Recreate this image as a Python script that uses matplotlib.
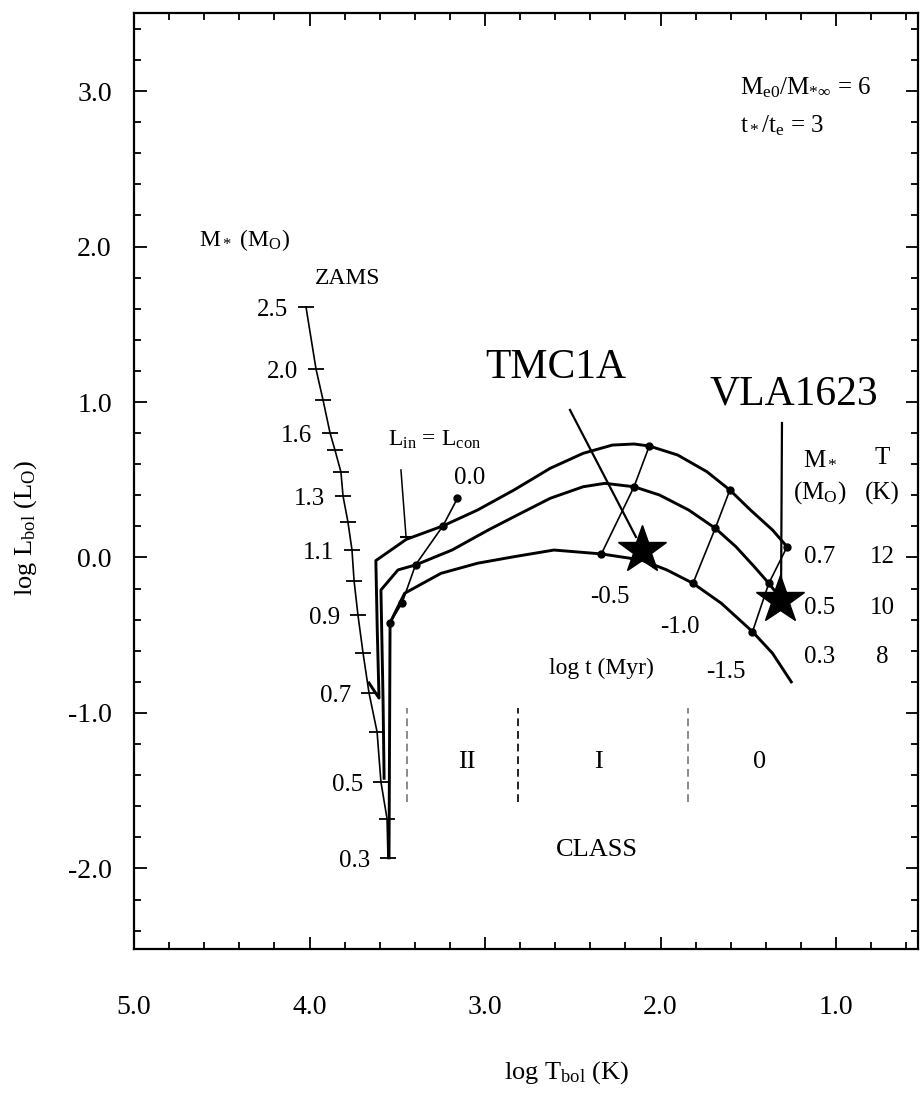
import matplotlib
matplotlib.use('Agg')
import matplotlib.pyplot as plt
from matplotlib.ticker import MultipleLocator, FormatStrFormatter

plt.rcParams['font.family'] = ['Liberation Serif', 'DejaVu Serif']
plt.rcParams['mathtext.fontset'] = 'custom'
plt.rcParams['mathtext.rm'] = 'Liberation Serif'
plt.rcParams['mathtext.it'] = 'Liberation Serif:italic'
plt.rcParams['mathtext.bf'] = 'Liberation Serif:bold'
plt.rcParams['axes.unicode_minus'] = False

# ---------------- data (log T_bol, log L_bol) ----------------
zams_mass = [2.5, 2.0, 1.8, 1.6, 1.5, 1.4, 1.3, 1.2, 1.1, 1.0, 0.9, 0.8, 0.7, 0.6, 0.5, 0.4, 0.3]
zams_logT = [4.020, 3.963, 3.923, 3.883, 3.855, 3.821, 3.809, 3.781, 3.758, 3.746,
             3.724, 3.695, 3.661, 3.615, 3.593, 3.558, 3.553]
zams_logL = [1.611, 1.212, 1.013, 0.801, 0.691, 0.550, 0.395, 0.228, 0.048, -0.151,
             -0.370, -0.614, -0.871, -1.122, -1.444, -1.682, -1.932]
zams_labeled = ["2.5", "2.0", "1.6", "1.3", "1.1", "0.9", "0.7", "0.5", "0.3"]

track07_logT = [3.661, 3.604, 3.614, 3.622, 3.448, 3.240, 3.043, 2.835, 2.628, 2.441,
                2.275, 2.151, 2.064, 1.902, 1.736, 1.605, 1.487, 1.362, 1.279]
track07_logL = [-0.807, -0.904, -0.466, -0.020, 0.117, 0.203, 0.305, 0.434, 0.574, 0.670,
                0.723, 0.730, 0.717, 0.659, 0.552, 0.434, 0.305, 0.177, 0.069]

track05_logT = [3.575, 3.581, 3.593, 3.496, 3.396, 3.188, 2.981, 2.835, 2.628, 2.441,
                2.317, 2.151, 2.006, 1.839, 1.688, 1.570, 1.466, 1.383, 1.331]
track05_logL = [-1.420, -0.916, -0.209, -0.080, -0.048, 0.048, 0.177, 0.262, 0.381, 0.455,
                0.477, 0.455, 0.402, 0.305, 0.188, 0.069, -0.059, -0.166, -0.241]

track03_logT = [3.547, 3.541, 3.458, 3.251, 3.043, 2.835, 2.607, 2.337, 2.109, 1.964,
                1.815, 1.653, 1.476, 1.362, 1.255]
track03_logL = [-1.932, -0.419, -0.230, -0.102, -0.037, 0.005, 0.048, 0.023, -0.016, -0.080,
                -0.166, -0.295, -0.477, -0.616, -0.800]

iso_00_logT = [3.157, 3.240, 3.396, 3.473, 3.541]
iso_00_logL = [0.381, 0.203, -0.048, -0.293, -0.421]
iso_m05_logT = [2.337, 2.151, 2.064]
iso_m05_logL = [0.023, 0.455, 0.717]
iso_m10_logT = [1.815, 1.688, 1.605]
iso_m10_logL = [-0.166, 0.188, 0.434]
iso_m15_logT = [1.476, 1.383, 1.279]
iso_m15_logL = [-0.477, -0.166, 0.069]

lin_lcon_logT = [3.479, 3.450]
lin_lcon_logL = [0.563, 0.132]

class_bounds = [3.444, 2.812, 1.843]
class_colors = ['#8a8a8a', '#222222', '#8a8a8a']
class_ylo, class_yhi = -1.572, -0.968
class_names = ["II", "I", "0"]
class_name_logT = [3.103, 2.356, 1.433]

source_names = ["TMC1A", "VLA1623"]
source_logT = [2.105, 1.319]
source_logL = [0.048, -0.273]
label_logT = [2.595, 1.239]
label_logL = [1.219, 1.051]
pointer_start_logT = [2.516, 1.308]
pointer_start_logL = [0.949, 0.865]
pointer_end_logT = [2.140, 1.313]
pointer_end_logL = [0.132, -0.164]

table_mass = ["0.7", "0.5", "0.3"]
table_temp = ["12", "10", "8"]
table_logL = [0.003, -0.325, -0.640]

# ---------------- figure ----------------
fig = plt.figure(figsize=(9.21, 10.95), dpi=100)
ax = fig.add_axes([134/921, 1-949/1095, 784/921, 936/1095])
ax.set_xlim(5.0, 0.533)
ax.set_ylim(-2.518, 3.502)

for s in ax.spines.values():
    s.set_linewidth(1.6)
ax.xaxis.set_major_locator(MultipleLocator(1.0))
ax.xaxis.set_minor_locator(MultipleLocator(0.2))
ax.yaxis.set_major_locator(MultipleLocator(1.0))
ax.yaxis.set_minor_locator(MultipleLocator(0.2))
ax.xaxis.set_major_formatter(FormatStrFormatter('%.1f'))
ax.yaxis.set_major_formatter(FormatStrFormatter('%.1f'))
ax.tick_params(which='both', direction='in', top=True, right=True, width=1.3)
ax.tick_params(which='major', length=9)
ax.tick_params(which='minor', length=5)
ax.tick_params(axis='x', which='major', pad=33, labelsize=20)
ax.tick_params(axis='y', which='major', pad=16, labelsize=20)

# ZAMS
ax.plot(zams_logT, zams_logL, color='k', lw=1.2)
ax.plot(zams_logT, zams_logL, ls='none', marker='_', ms=11, mew=1.3, color='k')
for lab in zams_labeled:
    i = zams_mass.index(float(lab))
    ax.annotate(lab, (zams_logT[i], zams_logL[i]), xytext=(-13, -2),
                textcoords='offset points', ha='right', va='center', fontsize=18)

# tracks
for tx, ty in [(track07_logT, track07_logL), (track05_logT, track05_logL),
               (track03_logT, track03_logL)]:
    ax.plot(tx, ty, color='k', lw=2.1, solid_joinstyle='round')

# isochrones
for ix, iy in [(iso_00_logT, iso_00_logL), (iso_m05_logT, iso_m05_logL),
               (iso_m10_logT, iso_m10_logL), (iso_m15_logT, iso_m15_logL)]:
    ax.plot(ix, iy, color='k', lw=1.2)
    ax.plot(ix, iy, ls='none', marker='o', ms=5, color='k')
ax.plot(lin_lcon_logT, lin_lcon_logL, color='k', lw=1.1)
ax.plot(lin_lcon_logT[-1:], lin_lcon_logL[-1:], ls='none', marker='_', ms=9, mew=1.5, color='k')

# class boundaries
for xb, c in zip(class_bounds, class_colors):
    ax.plot([xb, xb], [class_ylo, class_yhi], color=c, lw=1.4, ls=(0, (4, 2.5)))
for nm, xn in zip(class_names, class_name_logT):
    ax.text(xn, -1.315, nm, ha='center', va='center', fontsize=19)
ax.text(2.362, -1.881, "CLASS", ha='center', va='center', fontsize=19)

# sources
for xs, ys, xe, ye in zip(pointer_start_logT, pointer_start_logL, pointer_end_logT, pointer_end_logL):
    ax.plot([xs, xe], [ys, ye], color='k', lw=1.6)
ax.plot(source_logT, source_logL, ls='none', marker='*', ms=36, color='k')
for nm, xl, yl in zip(source_names, label_logT, label_logL):
    ax.text(xl, yl, nm, ha='center', va='center', fontsize=30)

# annotations
ax.text(4.368, 2.042, r"M$_*$ (M$_{\rm O}$)", ha='center', va='center', fontsize=17)
ax.text(3.781, 1.797, "ZAMS", ha='center', va='center', fontsize=17)
ax.text(3.285, 0.756, r"L$_{\rm in}$ = L$_{\rm con}$", ha='center', va='center', fontsize=17)
ax.text(3.085, 0.511, "0.0", ha='center', va='center', fontsize=18)
ax.text(2.288, -0.254, "-0.5", ha='center', va='center', fontsize=18)
ax.text(1.889, -0.447, "-1.0", ha='center', va='center', fontsize=18)
ax.text(1.627, -0.736, "-1.5", ha='center', va='center', fontsize=18)
ax.text(2.339, -0.711, "log t (Myr)", ha='center', va='center', fontsize=17)

ax.text(1.091, 0.640, r"M$_*$", ha='center', va='center', fontsize=18)
ax.text(0.738, 0.640, "T", ha='center', va='center', fontsize=18)
ax.text(1.091, 0.415, r"(M$_{\rm O}$)", ha='center', va='center', fontsize=18)
ax.text(0.738, 0.415, "(K)", ha='center', va='center', fontsize=18)
for m, t, yl in zip(table_mass, table_temp, table_logL):
    ax.text(1.091, yl, m, ha='center', va='center', fontsize=18)
    ax.text(0.738, yl, t, ha='center', va='center', fontsize=18)

ax.text(1.547, 3.020, r"M$_{\rm e0}$/M$_{*\infty}$ = 6", ha='left', va='center', fontsize=18)
ax.text(1.547, 2.780, r"t$_*$/t$_{\rm e}$ = 3", ha='left', va='center', fontsize=18)

fig.text(566/921, 1-1073/1095, r"log T$_{\rm bol}$ (K)", ha='center', va='center', fontsize=19)
fig.text(26/921, 1-528/1095, r"log L$_{\rm bol}$ (L$_{\rm O}$)", ha='center', va='center',
         rotation=90, fontsize=19)

fig.savefig('out.png', dpi=100)
